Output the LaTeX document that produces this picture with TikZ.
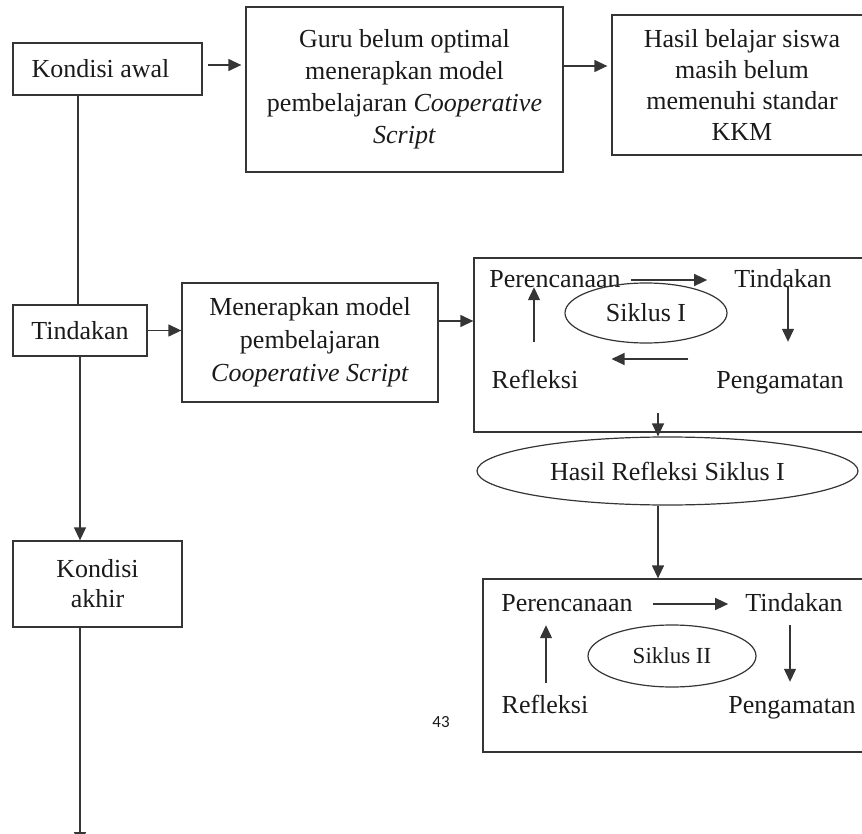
\documentclass[tikz,border=0pt]{standalone}
\usepackage{fontspec}
\setmainfont{Liberation Serif}
\newfontfamily\pagenumfont{Carlito}
\usetikzlibrary{arrows.meta,shapes.geometric}
\definecolor{lc}{HTML}{353535}
\definecolor{tc}{HTML}{1A1A1A}
\begin{document}
\begin{tikzpicture}[x=1pt,y=-1pt]
\tikzset{
 box/.style={draw=lc, line width=1.3pt, align=center, inner sep=0pt, font=\fontsize{26}{32}\selectfont, text=tc},
 oval/.style={ellipse, draw=lc, line width=1.2pt, inner sep=0pt, text=tc, font=\fontsize{26}{32}\selectfont},
 lbl/.style={inner sep=0pt, text height=18pt, text depth=6pt, font=\fontsize{26}{32}\selectfont, text=tc},
 conn/.style={draw=lc, line width=1.3pt},
 arr/.style={conn, -{Triangle[length=13pt,width=12pt]}},
}
\useasboundingbox (0,0) rectangle (862,834);

% left column
\node[box, minimum width=189pt, minimum height=52pt] (ka) at (107.5,69) {Kondisi awal\hspace*{14pt}};
\node[box, minimum width=134pt, minimum height=51pt] (tind) at (80,330.5) {Tindakan};
\node[box, minimum width=169pt, minimum height=86pt, font=\fontsize{26}{30}\selectfont] (akhir) at (97.5,584) {Kondisi\\akhir};

% top row
\node[box, minimum width=317pt, minimum height=165pt] (guru) at (404.5,89.5) {Guru belum optimal\\menerapkan model\\pembelajaran \textit{Cooperative}\\\textit{Script}};
\node[box, minimum width=260pt, minimum height=140pt, font=\fontsize{26}{30.7}\selectfont] (hasil) at (742,85) {Hasil belajar siswa\\masih belum\\memenuhi standar\\KKM};

% middle
\node[box, minimum width=256pt, minimum height=119pt, font=\fontsize{26}{33}\selectfont] (mener) at (310,342.5) {Menerapkan model\\pembelajaran\\\textit{Cooperative Script}};

% Siklus I
\node[box, minimum width=396pt, minimum height=174pt] (s1box) at (672,345) {};
\node[lbl] (p1) at (555,282) {Perencanaan};
\node[lbl] (t1) at (783,282) {Tindakan};
\node[lbl] (r1) at (535,382) {Refleksi};
\node[lbl] (g1) at (780,382) {Pengamatan};
\node[oval, minimum width=162pt, minimum height=60pt] (c1) at (646,313) {Siklus I};

\node[oval, minimum width=381pt, minimum height=68pt] (h1) at (667.5,471) {Hasil Refleksi Siklus I};

% Siklus II
\node[box, minimum width=387pt, minimum height=173pt] (s2box) at (676.5,665.5) {};
\node[lbl] (p2) at (567,605) {Perencanaan};
\node[lbl] (t2) at (794,605) {Tindakan};
\node[lbl] (r2) at (545,707) {Refleksi};
\node[lbl] (g2) at (792,707) {Pengamatan};
\node[oval, minimum width=168pt, minimum height=62pt, font=\fontsize{23}{28}\selectfont] (c2) at (672,656) {Siklus II};

\node[inner sep=0pt, text=tc, font=\pagenumfont\fontsize{17}{20}\selectfont] (pg) at (441,722) {43};

% connectors
\draw[arr, shorten <=5pt, shorten >=4pt] ([yshift=4pt]ka.east) -- ([yshift=4pt]ka.east -| guru.west);
\draw[arr, shorten >=4pt] ([yshift=19pt]hasil.west -| guru.east) -- ([yshift=19pt]hasil.west);
\draw[conn] ([xshift=-2pt]tind.north) -- ([xshift=-2pt]tind.north |- ka.south);
\draw[arr] (tind.south) -- (tind.south |- akhir.north);
\coordinate (bot) at (80,845);
\draw[arr] (akhir.south -| tind.south) -- (bot);
\draw[arr] (tind.east) -- (tind.east -| mener.west);
\draw[arr] ([yshift=21.5pt]mener.east) -- ([yshift=21.5pt]mener.east -| s1box.west);

% Siklus I arrows
\draw[arr, shorten <=10pt, shorten >=27pt] ([yshift=2pt]p1.east) -- ([yshift=2pt]p1.east -| t1.west);
\draw[arr, shorten <=28pt, shorten >=-7pt] ([xshift=-1pt]r1.north) -- ([xshift=-1pt]r1.north |- p1.south);
\draw[arr, shorten <=-7pt, shorten >=28pt] ([xshift=5pt]t1.south) -- ([xshift=5pt]t1.south |- g1.north);
\draw[arr, shorten <=28pt, shorten >=33pt] ([yshift=23pt]g1.west) -- ([yshift=23pt]g1.west -| r1.east);
\draw[arr] ([xshift=-14pt,yshift=20pt]s1box.south) -- ([xshift=-14pt]s1box.south |- h1.north);
\draw[arr] ([xshift=-9.5pt]h1.south) -- ([xshift=-9.5pt]h1.south |- s2box.north);

% Siklus II arrows
\draw[arr, shorten <=20pt, shorten >=17pt] ([yshift=1pt]p2.east) -- ([yshift=1pt]p2.east -| t2.west);
\draw[arr, shorten <=12pt, shorten >=8pt] ([xshift=1pt]r2.north) -- ([xshift=1pt]r2.north |- p2.south);
\draw[arr, shorten <=8pt, shorten >=13pt] ([xshift=-4pt]t2.south) -- ([xshift=-4pt]t2.south |- g2.north);
\end{tikzpicture}
\end{document}
